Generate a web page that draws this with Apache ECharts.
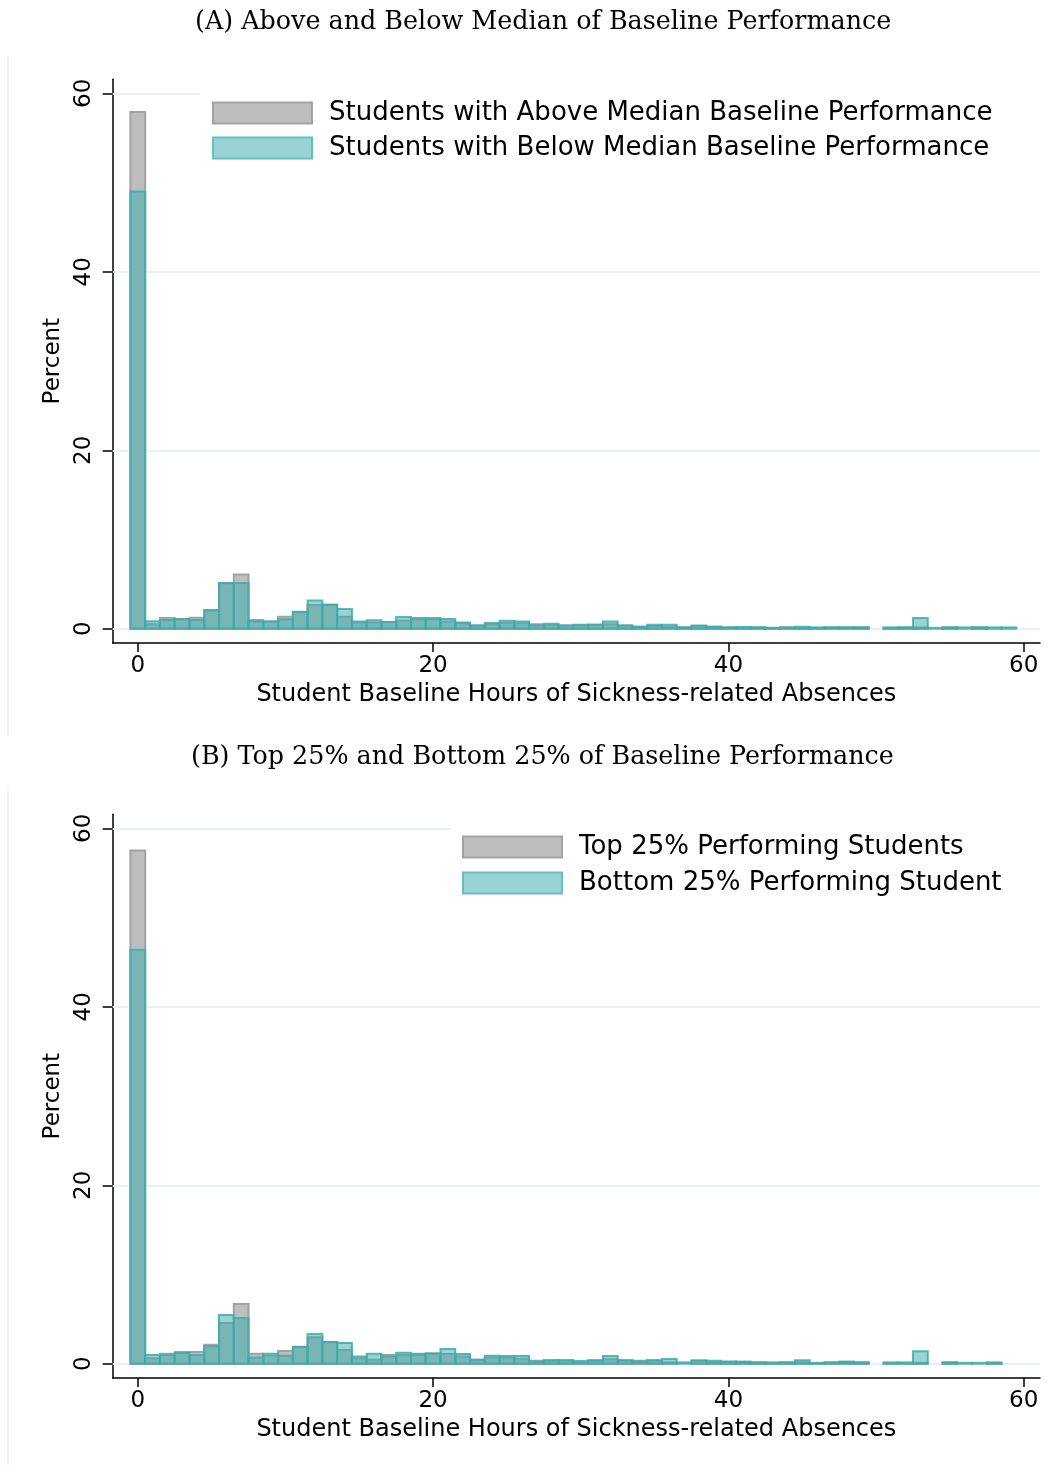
<!DOCTYPE html>
<html>
<head>
<meta charset="utf-8">
<script src="https://cdn.jsdelivr.net/npm/echarts@6/dist/echarts.min.js"></script>
<style>html,body{margin:0;padding:0;background:#fff;}#c{width:1059px;height:1465px;}</style>
</head>
<body>
<div id="c"></div>
<script>
// Bins: hours 0..59 (1-hour bins)
const hours = Array.from({length: 60}, (_, i) => i);
const yTicks = [0, 20, 40, 60];
const xTicks = [0, 20, 40, 60];

const titleA = '(A) Above and Below Median of Baseline Performance';
const titleB = '(B) Top 25% and Bottom 25% of Baseline Performance';
const nameAboveA = 'Students with Above Median Baseline Performance';
const nameBelowA = 'Students with Below Median Baseline Performance';
const nameTopB = 'Top 25% Performing Students';
const nameBottomB = 'Bottom 25% Performing Student';

const aboveA = [57.9,0.5,1.2,1.05,1.24,2.05,5.1,6.07,0.97,0.8,1.35,1.87,2.66,2.7,1.35,0.67,0.7,0.75,0.9,1.0,
  1.05,0.8,0.6,0.35,0.5,0.65,0.6,0.5,0.4,0.35,0.35,0.45,0.5,0.35,0.22,0.3,0.2,0.15,0.3,0.22,
  0.15,0.05,0.15,0.05,0.15,0.05,0.05,0.15,0.15,0.15,0,0.05,0.15,0.15,0,0.15,0,0.15,0,0];
const belowA = [49.0,0.85,0.97,1.1,0.97,2.1,5.13,5.13,0.82,0.82,1.05,1.9,3.15,2.7,2.2,0.82,0.94,0.75,1.3,1.2,
  1.2,1.1,0.7,0.35,0.65,0.9,0.8,0.35,0.55,0.35,0.45,0.45,0.8,0.35,0.22,0.45,0.45,0.15,0.35,0.22,
  0.15,0.2,0.15,0.1,0.15,0.22,0.15,0.15,0.15,0.15,0,0.15,0.15,1.2,0.1,0.15,0.15,0.15,0.15,0.15];
const topB = [57.5,0.6,1.12,1.3,1.3,2.13,4.57,6.7,1.12,0.9,1.42,1.87,2.96,2.43,1.54,0.6,0.45,0.97,0.97,0.97,
  1.15,1.1,0.8,0.45,0.7,0.65,0.55,0.34,0.4,0.4,0.1,0.35,0.5,0.4,0.34,0.4,0.15,0,0.3,0.15,
  0.2,0.22,0.15,0.05,0.15,0.15,0.05,0.15,0.22,0.15,0,0.05,0.05,0.1,0,0.15,0,0,0.05,0];
const bottomB = [46.4,0.97,0.97,1.2,0.97,1.95,5.47,5.13,0.7,1.12,0.9,1.9,3.33,2.43,2.32,0.82,1.12,0.82,1.24,1.12,
  1.15,1.65,1.1,0.45,0.9,0.86,0.86,0.26,0.4,0.4,0.3,0.4,0.86,0.4,0.26,0.4,0.52,0.15,0.4,0.33,
  0.26,0.22,0.15,0.15,0.15,0.4,0.1,0.15,0.22,0.15,0,0.15,0.15,1.4,0,0.15,0.1,0.1,0.15,0];

const GREY_FILL = '#bebebe', GREY_EDGE = '#a2a2a2';
const TEAL_FILL = 'rgba(60,172,174,0.52)', TEAL_EDGE = 'rgba(60,172,174,0.85)';
const TEAL_LEG_FILL = '#99d3d4', TEAL_LEG_EDGE = '#66c0c2';
const GRID_COLOR = '#e9f1f3';
const SANS = '"DejaVu Sans", Arial, Helvetica, sans-serif';
const SERIF = '"DejaVu Serif", "Liberation Serif", serif';

function pairs(vals) {
  return hours.map((h, i) => [h, vals[i]]).filter(d => d[1] > 0);
}

function barRenderer(fill, stroke, lw) {
  return function (params, api) {
    const x = api.value(0), v = api.value(1);
    const p0 = api.coord([x - 0.5, v]);
    const p1 = api.coord([x + 0.5, 0]);
    return {
      type: 'rect',
      shape: {x: p0[0], y: p0[1], width: p1[0] - p0[0], height: p1[1] - p0[1]},
      style: {fill: fill, stroke: stroke, lineWidth: lw}
    };
  };
}

function xAxisFor(gi) {
  return {
    gridIndex: gi, type: 'value', min: -1.7, max: 61.1,
    name: 'Student Baseline Hours of Sickness-related Absences',
    nameLocation: 'middle', nameGap: 40,
    nameTextStyle: {fontFamily: SANS, fontSize: 24, color: '#000'},
    axisLine: {show: true, onZero: false, lineStyle: {color: '#000', width: 1.5}},
    axisTick: {show: true, length: 9, customValues: xTicks, lineStyle: {color: '#000', width: 1.5}},
    axisLabel: {customValues: xTicks, margin: 12, fontFamily: SANS, fontSize: 23, color: '#000'},
    splitLine: {show: false}
  };
}
function yAxisFor(gi) {
  return {
    gridIndex: gi, type: 'value', min: -1.6, max: 61.57,
    name: 'Percent', nameLocation: 'middle', nameGap: 47,
    nameTextStyle: {fontFamily: SANS, fontSize: 23, color: '#000'},
    axisLine: {show: true, onZero: false, lineStyle: {color: '#000', width: 1.5}},
    axisTick: {show: true, length: 10, customValues: yTicks, lineStyle: {color: '#000', width: 1.5}},
    axisLabel: {customValues: yTicks, rotate: 90, margin: 17, fontFamily: SANS, fontSize: 23, color: '#000'},
    splitLine: {show: false}
  };
}

function gridSeries(gi) {
  return {
    type: 'line', xAxisIndex: gi, yAxisIndex: gi, z: 1, data: [], silent: true,
    markLine: {
      silent: true, symbol: 'none', animation: false, z: 1,
      label: {show: false},
      lineStyle: {color: GRID_COLOR, type: 'solid', width: 2},
      data: yTicks.map(v => ({yAxis: v}))
    }
  };
}

function legendFor(top, left, names, padRight, gap) {
  return {
    orient: 'vertical', top: top, left: left, z: 10,
    backgroundColor: '#fff', padding: [8, padRight, 8, 12],
    itemWidth: 99, itemHeight: 21, itemGap: gap,
    icon: 'rect',
    textStyle: {fontFamily: SANS, fontSize: 26, color: '#000', lineHeight: 23, padding: [0, 0, 0, 12]},
    selectedMode: false,
    data: [
      {name: names[0], itemStyle: {color: GREY_FILL, borderColor: GREY_EDGE, borderWidth: 2}},
      {name: names[1], itemStyle: {color: TEAL_LEG_FILL, borderColor: TEAL_LEG_EDGE, borderWidth: 2}}
    ]
  };
}

const option = {
  backgroundColor: '#fff',
  animation: false,
  title: [
    {text: titleA, left: 190, top: 5, textStyle: {fontFamily: SERIF, fontWeight: 'normal', fontSize: 25.4, color: '#000'}},
    {text: titleB, left: 186, top: 740, textStyle: {fontFamily: SERIF, fontWeight: 'normal', fontSize: 25.4, color: '#000'}}
  ],
  legend: [
    legendFor(92, 200, [nameAboveA, nameBelowA], 48, 9),
    legendFor(826, 450, [nameTopB, nameBottomB], 40, 10)
  ],
  grid: [
    {left: 112.7, right: 19, top: 79.3, bottom: 822},
    {left: 112.7, right: 19, top: 814.3, bottom: 87}
  ],
  xAxis: [xAxisFor(0), xAxisFor(1)],
  yAxis: [yAxisFor(0), yAxisFor(1)],
  graphic: [
    {type: 'line', shape: {x1: 8, y1: 57, x2: 8, y2: 735}, style: {stroke: '#eef2f3', lineWidth: 1.5}, silent: true},
    {type: 'line', shape: {x1: 8, y1: 790, x2: 8, y2: 1465}, style: {stroke: '#eef2f3', lineWidth: 1.5}, silent: true}
  ],
  series: [
    gridSeries(0),
    gridSeries(1),
    {type: 'custom', name: nameAboveA, xAxisIndex: 0, yAxisIndex: 0, z: 2,
     renderItem: barRenderer(GREY_FILL, GREY_EDGE, 2), data: pairs(aboveA),
     itemStyle: {color: GREY_FILL}},
    {type: 'custom', name: nameBelowA, xAxisIndex: 0, yAxisIndex: 0, z: 3,
     renderItem: barRenderer(TEAL_FILL, TEAL_EDGE, 2), data: pairs(belowA),
     itemStyle: {color: TEAL_LEG_FILL}},
    {type: 'custom', name: nameTopB, xAxisIndex: 1, yAxisIndex: 1, z: 2,
     renderItem: barRenderer(GREY_FILL, GREY_EDGE, 2), data: pairs(topB),
     itemStyle: {color: GREY_FILL}},
    {type: 'custom', name: nameBottomB, xAxisIndex: 1, yAxisIndex: 1, z: 3,
     renderItem: barRenderer(TEAL_FILL, TEAL_EDGE, 2), data: pairs(bottomB),
     itemStyle: {color: TEAL_LEG_FILL}}
  ]
};

const chart = echarts.init(document.getElementById('c'), null, {renderer: 'canvas'});
chart.setOption(option);
</script>
</body>
</html>
